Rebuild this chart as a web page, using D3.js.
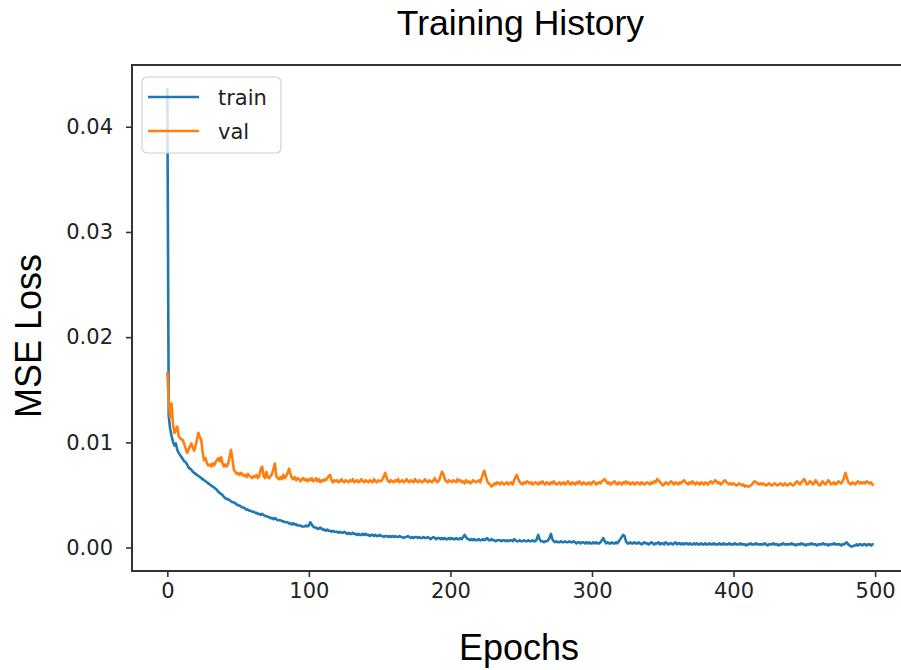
<!DOCTYPE html>
<html>
<head>
<meta charset="utf-8">
<script src="https://cdn.jsdelivr.net/npm/d3@7"></script>
<style>
  body { margin: 0; background: #fff; }
  svg { display: block; }
</style>
</head>
<body>
<svg id="chart" width="901" height="670"></svg>
<script>
// loss values per epoch, in units of 1e-4
const trainLoss = [
  437, 125, 113, 106, 101, 97, 99, 93, 90, 88, 86, 84, 82, 81, 79, 76, 75, 74, 72, 71,
  70, 69, 68, 67, 66, 65, 64, 63, 62, 61, 60, 59, 58, 57, 56, 55, 53, 52, 51, 50,
  48, 47, 46, 46, 45, 44, 43, 43, 42, 41, 40, 40, 39, 38, 38, 37, 36, 36, 35, 35,
  34, 34, 33, 33, 32, 32, 31, 32, 31, 30, 30, 29, 29, 28, 28, 27, 28, 27, 26, 26,
  26, 25, 25, 24, 24, 24, 23, 23, 22, 23, 22, 22, 21, 21, 21, 20, 20, 20, 21, 20,
  21, 24, 22, 20, 19, 19, 18, 18, 19, 18, 17, 17, 16, 17, 16, 16, 15, 16, 15, 15,
  15, 14, 15, 14, 14, 15, 14, 13, 14, 13, 13, 14, 13, 13, 12, 13, 12, 12, 13, 12,
  13, 12, 12, 11, 12, 12, 11, 12, 11, 11, 12, 11, 11, 10, 11, 11, 10, 11, 10, 11,
  10, 11, 10, 10, 11, 10, 10, 9, 10, 10, 11, 10, 9, 10, 9, 10, 10, 9, 10, 9,
  9, 10, 9, 9, 10, 9, 8, 9, 10, 9, 8, 9, 9, 8, 9, 8, 9, 8, 8, 9,
  8, 9, 8, 8, 9, 8, 8, 9, 8, 10, 12, 10, 8, 8, 7, 8, 7, 8, 7, 7,
  8, 7, 7, 8, 7, 8, 9, 7, 7, 8, 7, 7, 6, 7, 7, 7, 6, 7, 7, 6,
  7, 6, 7, 7, 6, 8, 7, 6, 6, 7, 6, 6, 7, 6, 6, 7, 6, 6, 7, 6,
  6, 8, 12, 8, 6, 6, 5, 6, 6, 7, 9, 13, 8, 6, 5, 6, 5, 5, 6, 5,
  5, 6, 5, 5, 6, 5, 5, 6, 5, 4, 5, 5, 4, 5, 5, 4, 5, 4, 5, 4,
  4, 5, 4, 5, 4, 4, 5, 7, 9, 6, 4, 5, 4, 4, 5, 4, 4, 5, 4, 6,
  8, 10, 12, 11, 6, 4, 4, 5, 4, 4, 5, 4, 4, 5, 4, 3, 4, 5, 4, 4,
  3, 4, 5, 4, 3, 4, 4, 5, 3, 4, 4, 3, 5, 4, 3, 4, 4, 3, 4, 5,
  3, 4, 4, 3, 4, 3, 4, 4, 3, 4, 3, 3, 4, 3, 4, 3, 3, 4, 3, 3,
  4, 3, 3, 4, 3, 3, 4, 3, 3, 3, 4, 3, 3, 4, 3, 3, 3, 4, 3, 3,
  3, 4, 3, 3, 3, 4, 3, 3, 3, 2, 3, 3, 4, 3, 3, 3, 4, 3, 3, 3,
  3, 3, 4, 3, 2, 3, 3, 3, 4, 3, 3, 3, 2, 3, 3, 4, 3, 3, 3, 3,
  3, 4, 3, 3, 2, 3, 3, 3, 4, 3, 3, 2, 3, 3, 3, 4, 3, 3, 3, 2,
  3, 3, 3, 4, 3, 3, 3, 2, 3, 3, 3, 4, 3, 3, 3, 3, 2, 3, 3, 4,
  5, 3, 2, 1, 1, 2, 2, 3, 2, 3, 3, 2, 3, 3, 2, 3, 3, 2, 3, 3
];

const valLoss = [
  167, 140, 124, 137, 118, 109, 112, 115, 106, 104, 103, 102, 98, 94, 90, 93, 96, 99, 95, 92,
  97, 103, 109, 105, 102, 90, 83, 85, 80, 78, 79, 77, 80, 78, 81, 83, 85, 82, 86, 80,
  77, 79, 77, 80, 86, 93, 84, 74, 72, 70, 71, 69, 71, 70, 68, 69, 67, 70, 68, 67,
  66, 68, 67, 69, 66, 68, 75, 77, 68, 66, 72, 67, 66, 68, 70, 75, 80, 68, 66, 65,
  67, 65, 69, 66, 68, 71, 75, 70, 66, 65, 67, 64, 66, 65, 63, 65, 66, 64, 65, 63,
  65, 64, 66, 63, 64, 66, 63, 65, 62, 64, 63, 65, 64, 66, 68, 69, 64, 62, 64, 63,
  64, 62, 63, 65, 63, 62, 64, 63, 62, 64, 63, 65, 62, 63, 64, 62, 63, 65, 63, 62,
  64, 63, 62, 64, 63, 62, 65, 63, 62, 64, 63, 63, 65, 68, 71, 66, 63, 62, 64, 63,
  62, 64, 63, 65, 62, 63, 64, 62, 63, 65, 63, 62, 64, 63, 62, 65, 63, 62, 64, 63,
  62, 63, 65, 63, 62, 64, 63, 62, 64, 66, 63, 62, 64, 68, 72, 70, 65, 63, 62, 64,
  63, 62, 64, 63, 62, 65, 63, 64, 62, 63, 61, 64, 62, 63, 61, 62, 64, 63, 62, 63,
  64, 62, 66, 70, 73, 68, 63, 61, 60, 58, 59, 61, 60, 62, 61, 60, 62, 61, 60, 61,
  62, 60, 61, 62, 60, 64, 67, 69, 65, 62, 61, 60, 62, 61, 63, 62, 61, 62, 60, 61,
  62, 61, 60, 62, 61, 63, 61, 60, 62, 61, 60, 62, 61, 63, 61, 60, 61, 62, 60, 61,
  62, 60, 61, 63, 61, 60, 62, 61, 60, 62, 61, 63, 61, 60, 62, 61, 60, 61, 62, 60,
  61, 63, 62, 60, 61, 62, 61, 63, 64, 65, 63, 61, 62, 60, 61, 62, 63, 61, 60, 62,
  61, 60, 62, 61, 63, 61, 62, 60, 61, 62, 60, 61, 62, 61, 60, 62, 61, 60, 61, 62,
  61, 60, 62, 61, 63, 62, 65, 64, 62, 61, 59, 60, 62, 61, 60, 62, 63, 61, 60, 62,
  61, 60, 62, 61, 63, 64, 62, 61, 60, 62, 61, 63, 61, 60, 62, 61, 60, 62, 61, 60,
  62, 61, 60, 62, 63, 61, 62, 64, 63, 61, 62, 60, 61, 63, 64, 62, 61, 60, 61, 60,
  61, 60, 59, 60, 61, 60, 59, 60, 58, 59, 58, 58, 59, 60, 62, 63, 62, 61, 60, 61,
  60, 61, 60, 59, 60, 61, 60, 59, 60, 61, 60, 59, 60, 61, 60, 59, 61, 60, 59, 60,
  61, 60, 59, 60, 62, 63, 61, 60, 62, 64, 65, 62, 60, 61, 63, 62, 60, 61, 64, 62,
  60, 59, 61, 63, 61, 60, 62, 64, 62, 60, 61, 62, 60, 61, 63, 62, 61, 63, 66, 71,
  67, 62, 61, 60, 62, 61, 60, 62, 63, 61, 62, 61, 62, 61, 63, 62, 61, 62, 60, 59
];

const xTicks = [0, 100, 200, 300, 400, 500];
const yTicks = [0, 0.01, 0.02, 0.03, 0.04];
const seriesNames = ["train", "val"];
const seriesColors = ["#1f77b4", "#ff7f0e"];

const svg = d3.select("#chart");

// plot box (right edge runs off the canvas, as in the original)
const box = { left: 132, right: 909, top: 65, bottom: 571 };

const x = d3.scaleLinear().domain([-24.95, 523.95]).range([box.left, box.right]);
const y = d3.scaleLinear().domain([-0.00223, 0.04587]).range([box.bottom, box.top]);

const series = [trainLoss, valLoss].map((arr, i) => ({
  name: seriesNames[i],
  color: seriesColors[i],
  values: arr.map((v, e) => ({ epoch: e, loss: v / 10000 }))
}));

svg.append("defs").append("clipPath").attr("id", "plot-clip")
  .append("rect")
  .attr("x", box.left).attr("y", box.top)
  .attr("width", box.right - box.left).attr("height", box.bottom - box.top);

const line = d3.line().x(d => x(d.epoch)).y(d => y(d.loss));

svg.append("g").attr("clip-path", "url(#plot-clip)")
  .selectAll("path")
  .data(series)
  .join("path")
  .attr("d", d => line(d.values))
  .attr("fill", "none")
  .attr("stroke", d => d.color)
  .attr("stroke-width", 2.6)
  .attr("stroke-linejoin", "round");

// axes
const tickFont = "'DejaVu Sans', sans-serif";

const xAxis = svg.append("g")
  .attr("transform", `translate(0,${box.bottom})`)
  .call(d3.axisBottom(x).tickValues(xTicks).tickFormat(d3.format("d")).tickSize(6).tickPadding(6).tickSizeOuter(0));
const yAxis = svg.append("g")
  .attr("transform", `translate(${box.left},0)`)
  .call(d3.axisLeft(y).tickValues(yTicks).tickFormat(d3.format(".2f")).tickSize(6).tickPadding(13).tickSizeOuter(0));

[xAxis, yAxis].forEach(g => {
  g.select(".domain").remove();
  g.selectAll(".tick line").attr("stroke", "#333").attr("stroke-width", 1.6);
  g.selectAll(".tick text")
    .attr("fill", "#222")
    .style("font-family", tickFont)
    .style("font-size", "21px");
});

// frame
svg.append("rect")
  .attr("x", box.left).attr("y", box.top)
  .attr("width", box.right - box.left).attr("height", box.bottom - box.top)
  .attr("fill", "none")
  .attr("stroke", "#333")
  .attr("stroke-width", 2);

// titles
const labelFont = "'Liberation Sans', Arial, sans-serif";

svg.append("text")
  .attr("x", (box.left + box.right) / 2).attr("y", 35)
  .attr("text-anchor", "middle")
  .style("font-family", labelFont).style("font-size", "35.5px")
  .text("Training History");

svg.append("text")
  .attr("x", 519).attr("y", 660)
  .attr("text-anchor", "middle")
  .style("font-family", labelFont).style("font-size", "36px")
  .text("Epochs");

svg.append("text")
  .attr("transform", "translate(41,336) rotate(-90)")
  .attr("text-anchor", "middle")
  .style("font-family", labelFont).style("font-size", "36px")
  .text("MSE Loss");

// legend
const legend = svg.append("g").attr("transform", "translate(142,77)");
legend.append("rect")
  .attr("width", 139).attr("height", 76)
  .attr("rx", 5)
  .attr("fill", "#fff").attr("fill-opacity", 0.8)
  .attr("stroke", "#d0d0d0").attr("stroke-width", 1.2);

const item = legend.selectAll("g.item")
  .data(series)
  .join("g")
  .attr("class", "item")
  .attr("transform", (d, i) => `translate(0,${20 + i * 34})`);

item.append("line")
  .attr("x1", 6).attr("x2", 57)
  .attr("stroke", d => d.color).attr("stroke-width", 2.6);

item.append("text")
  .attr("x", 76).attr("dy", "0.36em")
  .attr("fill", "#222")
  .style("font-family", tickFont).style("font-size", "21px")
  .text(d => d.name);
</script>
</body>
</html>
